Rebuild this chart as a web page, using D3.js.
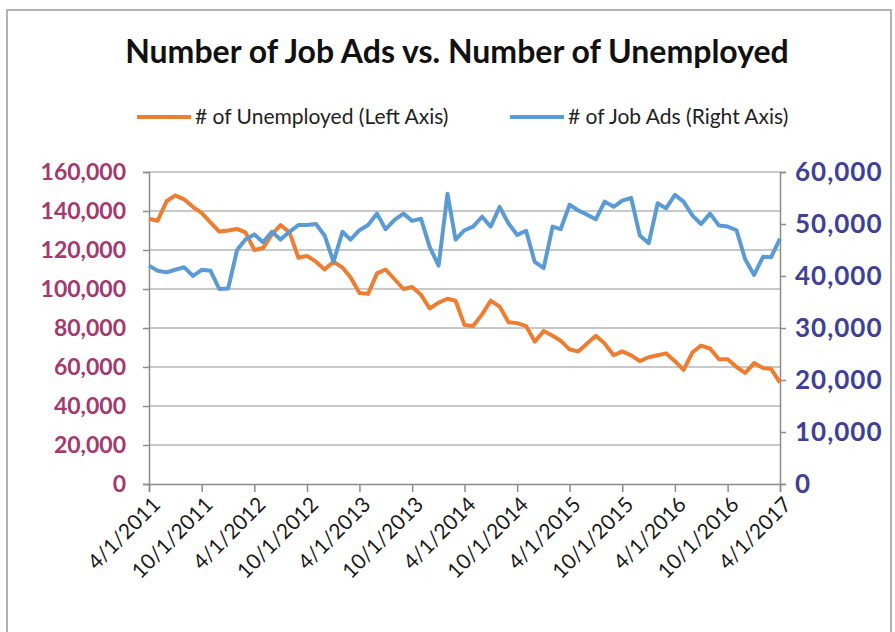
<!DOCTYPE html>
<html>
<head>
<meta charset="utf-8">
<script src="https://cdn.jsdelivr.net/npm/d3@7/dist/d3.min.js"></script>
<style>
  html, body { margin: 0; padding: 0; background: #fff; }
  svg { display: block; }
</style>
</head>
<body>
<svg id="chart" width="895" height="632"></svg>
<script>
// monthly series, April 2011 .. April 2017
const startMonth = "4/1/2011";
const unemployed = [
  136000, 135000, 145000, 148000, 146000, 142000, 139000, 134000, 129500, 130000, 130800, 129000,
  120000, 121000, 128000, 132800, 129000, 116000,
  117000, 114000, 110000, 114000, 111000, 106000,
  98000, 97500, 108000, 110000, 105000, 100000,
  101000, 97000, 90000, 93000, 95000, 94000,
  81500, 81000, 87000, 94000, 91000, 83000,
  82500, 81000, 73000, 78500, 76000, 73500,
  69000, 68000, 72000, 76000, 72000, 66000,
  68000, 66000, 63000, 65000, 66000, 67000,
  63000, 58500, 67500, 71000, 69500, 64000,
  64000, 60000, 57000, 62000, 59500, 59000,
  52000
];
const jobAds = [
  42000, 41000, 40700, 41200, 41700, 40000, 41200, 41000, 37500, 37600, 45000, 47000,
  48000, 46500, 48500, 47000, 48500, 49800,
  49800, 50000, 47800, 42700, 48500, 47000,
  48800, 49800, 52000, 49000, 50800, 52000,
  50600, 51000, 45600, 42000, 55800, 47000,
  48800, 49500, 51400, 49500, 53300, 50100,
  47900, 48700, 42700, 41500, 49500, 49000,
  53700, 52600, 51800, 50900, 54300, 53300,
  54500, 55000, 47800, 46300, 54000, 53000,
  55600, 54300, 51600, 50000, 52000, 49700,
  49500, 48800, 43200, 40200, 43700, 43600,
  47200
];
const xTickLabels = ["4/1/2011", "10/1/2011", "4/1/2012", "10/1/2012", "4/1/2013", "10/1/2013",
  "4/1/2014", "10/1/2014", "4/1/2015", "10/1/2015", "4/1/2016", "10/1/2016", "4/1/2017"];
const leftTicks = [0, 20000, 40000, 60000, 80000, 100000, 120000, 140000, 160000];
const rightTicks = [0, 10000, 20000, 30000, 40000, 50000, 60000];
const seriesNames = ["# of Unemployed (Left Axis)", "# of Job Ads (Right Axis)"];
const title = "Number of Job Ads vs. Number of Unemployed";

const ORANGE = '#ed7d31';
const BLUE = '#5b9bd5';
const GRID = '#c8c8c8';
const AXIS = '#8c8c8c';
const LEFT_COL = '#a3396f';
const RIGHT_COL = '#40409a';
const FONT = 'Lato, "Open Sans", sans-serif';

const parse = d3.timeParse("%m/%d/%Y");
const t0 = parse(startMonth);
const rowsU = unemployed.map((v, i) => ({ date: d3.timeMonth.offset(t0, i), v }));
const rowsJ = jobAds.map((v, i) => ({ date: d3.timeMonth.offset(t0, i), v }));
const tickDates = xTickLabels.map(parse);

const L = 149, R = 780, T = 172, B = 484;

const x = d3.scaleTime().domain([tickDates[0], tickDates[tickDates.length - 1]]).range([L, R]);
const yL = d3.scaleLinear().domain([0, 160000]).range([B, T]);
const yR = d3.scaleLinear().domain([0, 60000]).range([B, T]);

const svg = d3.select('#chart');

svg.append('rect')
  .attr('x', 7).attr('y', 10).attr('width', 884).attr('height', 640)
  .attr('fill', '#fff').attr('stroke', '#9a9a9a').attr('stroke-width', 1.5);

svg.append('text')
  .attr('x', 457).attr('y', 63)
  .attr('text-anchor', 'middle')
  .attr('font-family', FONT).attr('font-weight', 'bold').attr('font-size', 32)
  .attr('fill', '#111')
  .text(title);

// gridlines
svg.append('g')
  .selectAll('line')
  .data(leftTicks.filter(d => d > 0))
  .join('line')
  .attr('x1', L).attr('x2', R)
  .attr('y1', d => yL(d)).attr('y2', d => yL(d))
  .attr('stroke', GRID).attr('stroke-width', 2);

// left axis
svg.append('g')
  .attr('transform', `translate(${L},0)`)
  .call(d3.axisLeft(yL).tickValues(leftTicks).tickFormat(d3.format(',')).tickSize(6).tickPadding(17))
  .call(ax => ax.select('.domain').attr('stroke', AXIS).attr('stroke-width', 1.5))
  .call(ax => ax.selectAll('line').attr('stroke', AXIS).attr('stroke-width', 1.5))
  .call(ax => ax.selectAll('text').attr('fill', LEFT_COL).attr('font-size', 23)
    .attr('font-weight', 'bold').attr('font-family', FONT));

// right axis
svg.append('g')
  .attr('transform', `translate(${R},0)`)
  .call(d3.axisRight(yR).tickValues(rightTicks).tickFormat(d3.format(',')).tickSize(6).tickPadding(9))
  .call(ax => ax.select('.domain').attr('stroke', AXIS).attr('stroke-width', 1.5))
  .call(ax => ax.selectAll('line').attr('stroke', AXIS).attr('stroke-width', 1.5))
  .call(ax => ax.selectAll('text').attr('fill', RIGHT_COL).attr('font-size', 26)
    .attr('letter-spacing', 1)
    .attr('font-weight', 'bold').attr('font-family', FONT));

// bottom axis
svg.append('g')
  .attr('transform', `translate(0,${B})`)
  .call(d3.axisBottom(x).tickValues(tickDates).tickFormat((d, i) => xTickLabels[i]).tickSize(8))
  .call(ax => ax.select('.domain').attr('stroke', AXIS).attr('stroke-width', 1.5))
  .call(ax => ax.selectAll('line').attr('stroke', AXIS).attr('stroke-width', 1.5))
  .call(ax => ax.selectAll('text')
    .attr('fill', '#1a1a1a').attr('font-size', 21).attr('font-family', FONT)
    .attr('text-anchor', 'end')
    .attr('dy', 0).attr('y', 0)
    .attr('transform', 'translate(12,22) rotate(-45)'));

const line = y => d3.line().x(d => x(d.date)).y(d => y(d.v));

svg.append('path')
  .datum(rowsU)
  .attr('d', line(yL))
  .attr('fill', 'none').attr('stroke', ORANGE).attr('stroke-width', 4)
  .attr('stroke-linejoin', 'round');

svg.append('path')
  .datum(rowsJ)
  .attr('d', line(yR))
  .attr('fill', 'none').attr('stroke', BLUE).attr('stroke-width', 4)
  .attr('stroke-linejoin', 'round');

// legend
const legend = svg.append('g').attr('transform', 'translate(0,117)');
const legendItems = [
  { name: seriesNames[0], color: ORANGE, x: 137 },
  { name: seriesNames[1], color: BLUE, x: 510 }
];
const li = legend.selectAll('g').data(legendItems).join('g')
  .attr('transform', d => `translate(${d.x},0)`);
li.append('line')
  .attr('x1', 0).attr('x2', 54).attr('y1', 0).attr('y2', 0)
  .attr('stroke', d => d.color).attr('stroke-width', 4);
li.append('text')
  .attr('x', 58).attr('y', 0).attr('dy', '0.35em')
  .attr('font-family', FONT).attr('font-size', 21).attr('fill', '#222')
  .text(d => d.name);
</script>
</body>
</html>
